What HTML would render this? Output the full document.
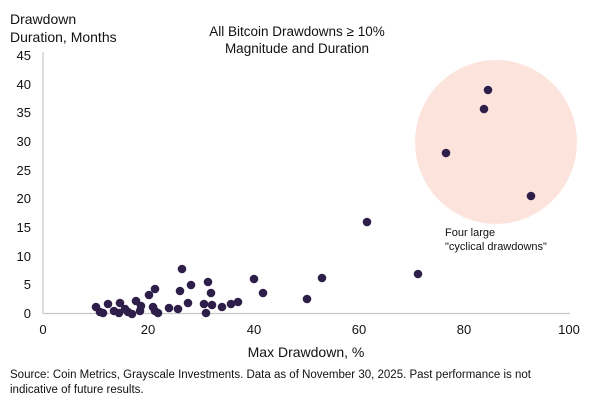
<!DOCTYPE html>
<html><head><style>body{margin:0;background:#fff}svg text{font-family:"Liberation Sans",sans-serif;fill:#111}</style></head><body>
<svg width="600" height="401" viewBox="0 0 600 401" xmlns="http://www.w3.org/2000/svg">
<ellipse cx="496" cy="142" rx="81" ry="82" fill="#fce4dd"/>
<text x="10" y="24" font-size="14">Drawdown</text>
<text x="10" y="42" font-size="14">Duration, Months</text>
<text x="297" y="36" font-size="13.5" text-anchor="middle">All Bitcoin Drawdowns ≥ 10%</text>
<text x="297" y="53" font-size="13.5" text-anchor="middle">Magnitude and Duration</text>
<g stroke="#c8c8c8" stroke-width="1.2"><line x1="43" y1="52" x2="43" y2="313.5"/><line x1="43" y1="313.5" x2="570" y2="313.5"/></g>
<g font-size="13" text-anchor="end">
<text x="31" y="318">0</text><text x="31" y="289">5</text><text x="31" y="261">10</text><text x="31" y="232">15</text><text x="31" y="203">20</text><text x="31" y="175">25</text><text x="31" y="146">30</text><text x="31" y="117">35</text><text x="31" y="89">40</text><text x="31" y="60">45</text>
</g>
<g font-size="13" text-anchor="middle">
<text x="43" y="334">0</text><text x="148" y="334">20</text><text x="254" y="334">40</text><text x="359" y="334">60</text><text x="464" y="334">80</text><text x="569" y="334">100</text>
</g>
<text x="306" y="357" font-size="14" text-anchor="middle">Max Drawdown, %</text>
<text x="445" y="236" font-size="11">Four large</text>
<text x="445" y="250" font-size="11">"cyclical drawdowns"</text>
<text x="10" y="378" font-size="11.5">Source: Coin Metrics, Grayscale Investments. Data as of November 30, 2025. Past performance is not</text>
<text x="10" y="393" font-size="11.5">indicative of future results.</text>
<g fill="#2e1f4a">
<circle cx="96" cy="307" r="4.3"/><circle cx="100" cy="312" r="4.3"/><circle cx="103" cy="313" r="4.3"/><circle cx="108" cy="304" r="4.3"/><circle cx="114" cy="311" r="4.3"/><circle cx="120" cy="303" r="4.3"/><circle cx="119" cy="313" r="4.3"/><circle cx="125" cy="309" r="4.3"/><circle cx="128" cy="312" r="4.3"/><circle cx="132" cy="314" r="4.3"/><circle cx="136" cy="301" r="4.3"/><circle cx="140" cy="311" r="4.3"/><circle cx="141" cy="306" r="4.3"/><circle cx="149" cy="295" r="4.3"/><circle cx="155" cy="289" r="4.3"/><circle cx="153" cy="307" r="4.3"/><circle cx="155" cy="311" r="4.3"/><circle cx="158" cy="313" r="4.3"/><circle cx="169" cy="308" r="4.3"/><circle cx="178" cy="309" r="4.3"/><circle cx="182" cy="269" r="4.3"/><circle cx="180" cy="291" r="4.3"/><circle cx="188" cy="303" r="4.3"/><circle cx="191" cy="285" r="4.3"/><circle cx="204" cy="304" r="4.3"/><circle cx="208" cy="282" r="4.3"/><circle cx="211" cy="293" r="4.3"/><circle cx="206" cy="313" r="4.3"/><circle cx="212" cy="305" r="4.3"/><circle cx="222" cy="307" r="4.3"/><circle cx="231" cy="304" r="4.3"/><circle cx="238" cy="302" r="4.3"/><circle cx="254" cy="279" r="4.3"/><circle cx="263" cy="293" r="4.3"/><circle cx="307" cy="299" r="4.3"/><circle cx="322" cy="278" r="4.3"/><circle cx="367" cy="222" r="4.3"/><circle cx="418" cy="274" r="4.3"/><circle cx="446" cy="153" r="4.3"/><circle cx="484" cy="109" r="4.3"/><circle cx="488" cy="90" r="4.3"/><circle cx="531" cy="196" r="4.3"/>
</g>
</svg>
</body></html>
